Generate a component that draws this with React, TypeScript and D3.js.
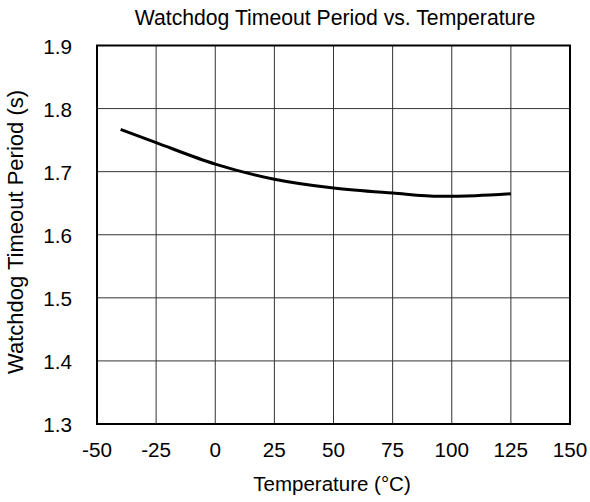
import * as d3 from 'd3'

const temps = [-40, -25, 0, 25, 50, 75, 95, 110, 125]
const periods = [1.767, 1.746, 1.712, 1.688, 1.674, 1.666, 1.661, 1.662, 1.665]
const xTicks = [-50, -25, 0, 25, 50, 75, 100, 125, 150]
const yTicks = [1.3, 1.4, 1.5, 1.6, 1.7, 1.8, 1.9]

const W = 590
const H = 502
const left = 97
const right = 570
const top = 45.5
const bottom = 424

export default function App() {
  const x = d3.scaleLinear().domain([-50, 150]).range([left, right])
  const y = d3.scaleLinear().domain([1.3, 1.9]).range([bottom, top])
  const line = d3
    .line<number>()
    .x((d, i) => x(temps[i]))
    .y((d) => y(d))
    .curve(d3.curveMonotoneX)

  const font = 'Arial, "Liberation Sans", sans-serif'
  const fs = 20.7

  return (
    <svg
      width={W}
      height={H}
      style={{ position: 'absolute', left: 0, top: 0, background: '#fff' }}
      fontFamily={font}
    >
      <text x={335} y={25} textAnchor="middle" fontSize={21.2}>
        Watchdog Timeout Period vs. Temperature
      </text>
      {xTicks.map((t) => (
        <line key={'gx' + t} x1={x(t)} x2={x(t)} y1={top} y2={bottom} stroke="#333" strokeWidth={1} />
      ))}
      {yTicks.map((t) => (
        <line key={'gy' + t} x1={left} x2={right} y1={y(t)} y2={y(t)} stroke="#333" strokeWidth={1} />
      ))}
      <rect x={left} y={top} width={right - left} height={bottom - top} fill="none" stroke="#000" strokeWidth={2} />
      <path d={line(periods) || ''} fill="none" stroke="#000" strokeWidth={3} />
      {xTicks.map((t) => (
        <text key={'tx' + t} x={x(t)} y={457} textAnchor="middle" fontSize={fs}>
          {t}
        </text>
      ))}
      {yTicks.map((t) => (
        <text key={'ty' + t} x={72} y={y(t) + 8} textAnchor="end" fontSize={fs}>
          {t.toFixed(1)}
        </text>
      ))}
      <text x={332} y={491} textAnchor="middle" fontSize={20.5}>
        Temperature (°C)
      </text>
      <text transform={`translate(23,232) rotate(-90)`} textAnchor="middle" fontSize={22}>
        Watchdog Timeout Period (s)
      </text>
    </svg>
  )
}
